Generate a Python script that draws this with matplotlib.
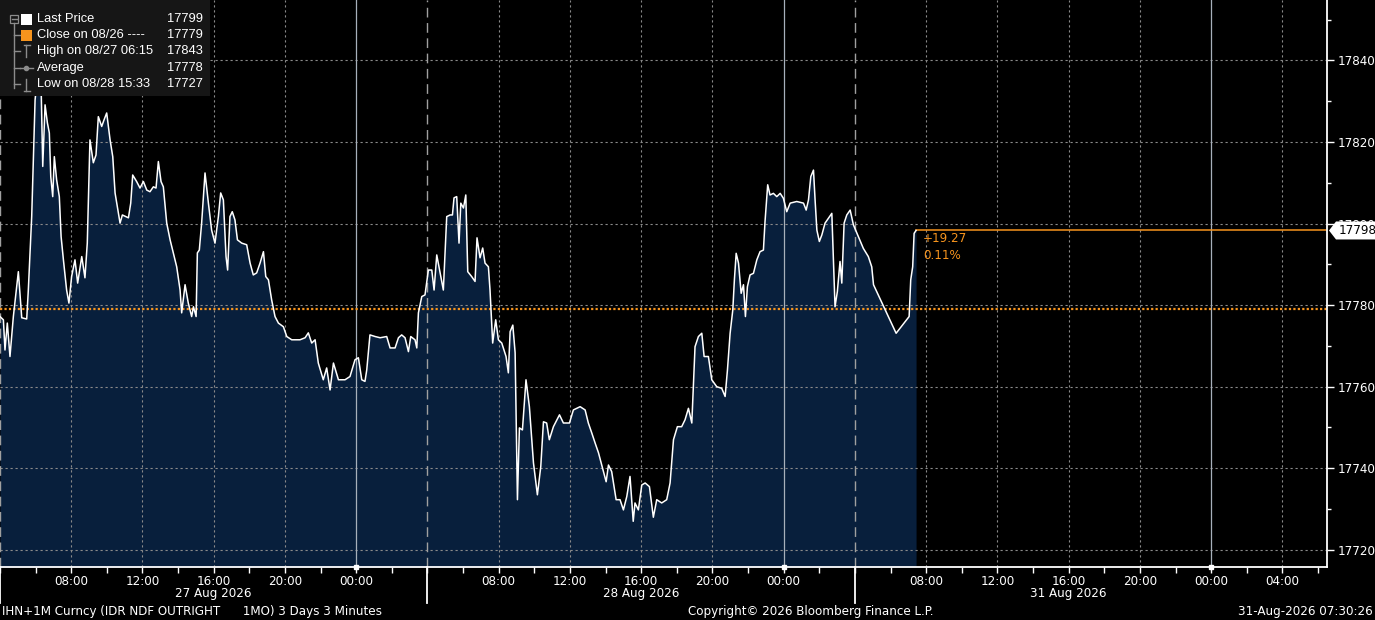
import numpy as np
import matplotlib
matplotlib.use("Agg")
import matplotlib.pyplot as plt
from matplotlib import font_manager
from matplotlib.patches import Rectangle, Polygon
from matplotlib.lines import Line2D
import matplotlib.transforms as mtransforms

# ---------------- data ----------------
# trading hours elapsed since 27 Aug 2026 04:00 (each session = 24h, weekend skipped)
hours = [
    0.00, 0.19, 0.28, 0.41, 0.56, 0.75, 1.03, 1.22, 1.50, 1.59,
    1.78, 1.97, 2.25, 2.32, 2.40, 2.53, 2.66, 2.77, 2.85, 2.96,
    3.05, 3.18, 3.33, 3.43, 3.56, 3.74, 3.87, 4.02, 4.21, 4.36,
    4.59, 4.77, 4.90, 5.05, 5.24, 5.39, 5.52, 5.71, 5.84, 5.99,
    6.18, 6.33, 6.46, 6.59, 6.74, 6.87, 7.21, 7.34, 7.45, 7.67,
    7.86, 8.05, 8.24, 8.42, 8.61, 8.76, 8.89, 9.04, 9.17, 9.36,
    9.55, 9.73, 9.92, 10.11, 10.20, 10.39, 10.57, 10.76, 10.86, 11.01,
    11.08, 11.19, 11.32, 11.51, 11.70, 11.88, 12.07, 12.26, 12.39, 12.54,
    12.69, 12.78, 12.91, 13.04, 13.19, 13.33, 13.57, 13.85, 14.04, 14.22,
    14.41, 14.60, 14.79, 14.92, 15.07, 15.25, 15.44, 15.63, 15.91, 16.10,
    16.38,
    16.84, 17.13, 17.31, 17.50, 17.69, 17.87, 18.15, 18.34, 18.53, 18.72,
    19.00, 19.37, 19.65, 19.93, 20.12, 20.31, 20.49, 20.59, 20.77, 21.06,
    21.34, 21.71, 21.90, 22.18, 22.37, 22.55, 22.74, 22.93, 23.06, 23.30,
    23.40, 23.49, 23.68, 23.86, 24.05, 24.24, 24.37, 24.52, 24.71, 24.89,
    25.08, 25.27, 25.40, 25.49, 25.64, 25.77, 25.87, 26.02, 26.15, 26.26,
    26.48, 26.67, 26.78, 26.95, 27.10, 27.23, 27.42, 27.51, 27.66, 27.83,
    27.98, 28.17, 28.41, 28.54, 28.64, 28.79, 28.92, 29.05, 29.16, 29.33,
    29.53, 29.72, 29.95, 30.17, 30.36, 30.51, 30.69, 30.84, 31.07, 31.41,
    31.63, 31.97, 32.19, 32.57, 32.85, 33.03, 33.22,
    33.41, 33.60, 33.78, 34.03, 34.16, 34.34, 34.59, 34.81, 35.00, 35.19,
    35.37, 35.55, 35.65, 35.84, 36.03, 36.22, 36.46, 36.68, 36.87, 37.15,
    37.43, 37.62, 37.81, 38.03, 38.27, 38.46, 38.65, 38.84, 39.02, 39.21,
    39.40, 39.53, 39.77, 39.96, 40.24, 40.52, 40.71, 40.84, 40.99, 41.14,
    41.23, 41.33, 41.46, 41.61, 41.74, 41.85, 41.96, 42.11, 42.30, 42.49,
    42.67, 42.86, 42.95, 43.10, 43.23, 43.42, 43.61, 43.80, 43.98, 44.17,
    44.36, 44.73, 45.11, 45.26, 45.39, 45.52, 45.67, 45.76, 45.86, 46.00,
    46.14, 46.32, 46.51, 46.70, 46.79, 46.88, 47.01, 47.16, 47.26, 47.39,
    47.54, 47.73, 47.91, 48.19, 48.47, 48.75, 48.94, 49.04, 50.31, 51.04,
    51.13, 51.24, 51.32, 51.43,
]

prices = [
    17777.2, 17776.4, 17769.0, 17775.6, 17767.4, 17777.2, 17788.2, 17776.9, 17776.6, 17783.7,
    17801.7, 17830.3, 17843.0, 17831.1, 17814.0, 17829.1, 17824.7, 17822.2, 17811.5, 17806.6,
    17816.4, 17810.7, 17806.6, 17796.8, 17791.1, 17783.7, 17780.5, 17787.0, 17791.1, 17785.4,
    17791.9, 17786.7, 17795.2, 17820.5, 17814.9, 17816.8, 17826.2, 17823.8, 17825.4, 17827.1,
    17820.5, 17816.4, 17807.5, 17804.1, 17800.1, 17802.1, 17801.4, 17805.0, 17811.9, 17810.3,
    17808.7, 17810.3, 17808.2, 17807.8, 17809.0, 17808.7, 17815.2, 17810.3, 17809.0, 17800.1,
    17796.0, 17792.8, 17789.4, 17783.7, 17778.1, 17785.0, 17780.5, 17777.2, 17779.6, 17777.2,
    17792.8, 17793.5, 17800.1, 17812.4, 17805.0, 17798.4, 17795.2, 17801.7, 17807.5, 17805.8,
    17791.9, 17788.6, 17801.7, 17802.9, 17800.9, 17796.0, 17795.2, 17794.8, 17790.3, 17787.4,
    17787.9, 17790.3, 17793.1, 17787.0, 17786.2, 17781.3, 17777.2, 17775.6, 17774.7, 17772.3,
    17771.5,
    17771.5, 17772.0, 17773.2, 17770.7, 17771.5, 17765.8, 17761.7, 17764.6, 17759.2, 17765.8,
    17761.7, 17761.7, 17762.5, 17766.6, 17767.1, 17761.7, 17761.3, 17764.1, 17772.7, 17772.3,
    17772.0, 17772.3, 17769.5, 17769.5, 17772.0, 17772.7, 17772.0, 17768.6, 17772.3, 17771.5,
    17769.5, 17778.1, 17782.1, 17782.5, 17788.6, 17788.6, 17783.7, 17792.3, 17787.9, 17783.7,
    17801.7, 17802.1, 17802.1, 17806.3, 17806.6, 17795.2, 17805.0, 17803.8, 17807.0, 17788.2,
    17787.0, 17785.8, 17796.5, 17791.6, 17794.0, 17790.3, 17789.4, 17783.7, 17770.7, 17776.4,
    17771.5, 17770.7, 17767.4, 17763.4, 17773.5, 17775.1, 17768.3, 17732.3, 17749.9, 17749.4,
    17761.7, 17755.1, 17741.3, 17733.5, 17740.4, 17751.4, 17751.1, 17747.0, 17750.2, 17753.1,
    17751.1, 17751.1, 17754.3, 17755.1, 17754.3, 17751.1, 17748.7,
    17746.2, 17743.8, 17740.8, 17736.7, 17740.8, 17739.2, 17732.3, 17732.3, 17729.8, 17733.1,
    17738.0, 17727.0, 17731.5, 17729.8, 17735.9, 17736.4, 17735.5, 17728.0, 17732.3, 17731.5,
    17732.3, 17736.4, 17747.0, 17750.2, 17750.2, 17751.9, 17754.7, 17751.1, 17769.8, 17772.3,
    17773.1, 17767.4, 17767.4, 17761.7, 17760.0, 17759.6, 17757.6, 17764.1, 17773.1, 17778.8,
    17786.2, 17792.7, 17790.3, 17782.9, 17785.0, 17777.2, 17784.5, 17787.4, 17787.8, 17791.1,
    17793.1, 17793.5, 17800.5, 17809.5, 17807.0, 17807.4, 17806.6, 17807.4, 17806.2, 17802.9,
    17805.0, 17805.4, 17805.0, 17803.3, 17805.8, 17811.5, 17813.1, 17805.8, 17798.4, 17795.6,
    17797.2, 17800.1, 17801.3, 17802.5, 17791.1, 17779.6, 17783.3, 17790.7, 17785.4, 17800.1,
    17802.1, 17803.3, 17799.7, 17796.8, 17793.9, 17791.9, 17789.4, 17785.0, 17773.1, 17777.2,
    17786.2, 17789.4, 17797.6, 17798.3,
]
assert len(hours) == len(prices)

close_price = 17779.03
session_starts = [0, 24, 48]
session_dates = ["27 Aug 2026", "28 Aug 2026", "31 Aug 2026"]
session_open_hour = 4
y_ticks = [17720, 17740, 17760, 17780, 17800, 17820, 17840]

legend_labels = ["Last Price", "Close on 08/26 ----", "High on 08/27 06:15", "Average", "Low on 08/28 15:33"]
legend_values = ["17799", "17779", "17843", "17778", "17727"]

footer_left = "IHN+1M Curncy (IDR NDF OUTRIGHT      1MO) 3 Days 3 Minutes"
footer_mid = "Copyright\u00a9 2026 Bloomberg Finance L.P."
footer_right = "31-Aug-2026 07:30:26"

# ---------------- style ----------------
names = {f.name for f in font_manager.fontManager.ttflist}
NARROW = "Liberation Sans Narrow" if "Liberation Sans Narrow" in names else "DejaVu Sans"
NSTRETCH = "normal" if NARROW == "Liberation Sans Narrow" else "condensed"
REG = "Liberation Sans" if "Liberation Sans" in names else "DejaVu Sans"

ORANGE = "#f7941d"
NAVY = "#081f3c"
WHITE = "#ffffff"
FS = 9.5

W, H = 1375, 620
fig = plt.figure(figsize=(W / 100, H / 100), dpi=100, facecolor="black")

def fx(px):
    return px / W

def fy(py):
    return 1 - py / H

ax_left, ax_right, ax_top, ax_bottom = 0, 1327, 0, 567
ax = fig.add_axes([fx(ax_left), fy(ax_bottom), fx(ax_right - ax_left), (ax_bottom - ax_top) / H])
ax.set_facecolor("black")

x_max = 74.5
y_lo, y_hi = 17715.8, 17854.8
ax.set_xlim(0, x_max)
ax.set_ylim(y_lo, y_hi)

hrs = np.array(hours)
px_ = np.array(prices)

# area + line
ax.fill_between(hrs, px_, y_lo, color=NAVY, lw=0, zorder=1)
ax.plot(hrs, px_, color=WHITE, lw=1.1, zorder=4)

# grid
for yv in y_ticks:
    ax.axhline(yv, color="#8a8a8a", lw=0.8, ls=(0, (2, 2.5)), zorder=2)
for h in range(0, int(x_max) + 1, 4):
    tod = (session_open_hour + h) % 24
    if h in session_starts:
        ax.axvline(h, color="#a0a0a0", lw=1.0, ls=(0, (7, 4)), zorder=2)
    elif tod == 0:
        ax.axvline(h, color="#a7b0bb", lw=0.9, zorder=2)
    else:
        ax.axvline(h, color="#8a8a8a", lw=0.8, ls=(0, (2, 2.5)), zorder=2)

# close line
ax.axhline(close_price, color=ORANGE, lw=1.6, ls=(0, (1.0, 1.0)), zorder=3)

# last price line to axis
last_h, last_p = hours[-1], prices[-1]
ax.plot([last_h, x_max], [last_p, last_p], color=ORANGE, lw=1.1, zorder=3)
chg = last_p - close_price
ax.annotate(f"{chg:+.2f}", xy=(last_h, last_p), xytext=(5, -6), textcoords="offset points",
            color=ORANGE, fontsize=FS, family=NARROW, fontstretch=NSTRETCH, va="center", ha="left")
ax.annotate(f"{chg / close_price * 100:.2f}%", xy=(last_h, last_p), xytext=(5, -18), textcoords="offset points",
            color=ORANGE, fontsize=FS, family=NARROW, fontstretch=NSTRETCH, va="center", ha="left")

# spines
for s in ["left", "top"]:
    ax.spines[s].set_visible(False)
for s in ["right", "bottom"]:
    ax.spines[s].set_color(WHITE)
    ax.spines[s].set_linewidth(1.3)
    ax.spines[s].set_zorder(5)

# y axis
ax.yaxis.tick_right()
ax.set_yticks(y_ticks)
ax.set_yticks(list(range(17720, 17851, 10)), minor=True)
ax.tick_params(axis="y", which="major", length=5, width=1, color=WHITE, labelcolor=WHITE,
               labelsize=FS, pad=3)
ax.tick_params(axis="y", which="minor", length=3, width=1, color=WHITE)
for lab in ax.get_yticklabels():
    lab.set_family(NARROW)
    lab.set_fontstretch(NSTRETCH)

# last price marker box on right axis (pixel geometry from the axes transform)
_, ly = ax.transData.transform((0, last_p))
ax_x1 = fig.bbox.width * (fx(ax_right))
box = Polygon([(ax_x1 + 2, ly), (ax_x1 + 9, ly + 9), (W, ly + 9), (W, ly - 9), (ax_x1 + 9, ly - 9)],
              closed=True, transform=None, fc=WHITE, ec="none", zorder=30)
fig.patches.append(box)
fig.text((ax_x1 + 12) / W, ly / H, f"{last_p:.0f}", ha="left", va="center", color="black",
         fontsize=FS, family=NARROW, fontstretch=NSTRETCH, zorder=31)

# x axis
xt = list(range(0, int(x_max) + 1, 4))
ax.set_xticks(xt)
ax.set_xticklabels(["" if h in session_starts else f"{(session_open_hour + h) % 24:02d}:00" for h in xt])
ax.set_xticks(list(range(0, int(x_max) + 1, 2)), minor=True)
ax.tick_params(axis="x", which="both", length=4, width=1, color=WHITE, labelcolor=WHITE,
               labelsize=FS, pad=1.5)
for lab in ax.get_xticklabels():
    lab.set_family(NARROW)
    lab.set_fontstretch(NSTRETCH)

blend = mtransforms.blended_transform_factory(ax.transData, fig.transFigure)
for h, d in zip(session_starts, session_dates):
    ax.plot([h, h], [fy(567), fy(603)], color=WHITE, lw=1.3, transform=blend, clip_on=False, zorder=6)
    ax.text(h + 12, fy(594), d, transform=blend, ha="center", va="center", color=WHITE,
            fontsize=FS, family=NARROW, fontstretch=NSTRETCH)
for h in xt:
    if (session_open_hour + h) % 24 == 0:
        ax.plot([h], [y_lo], marker="s", ms=3.5, color=WHITE, clip_on=False, zorder=7)

# footer
fig.text(fx(2), fy(611), footer_left, color=WHITE, fontsize=FS, family=NARROW,
         fontstretch=NSTRETCH, ha="left", va="center")
fig.text(fx(688), fy(611), footer_mid, color=WHITE, fontsize=FS, family=NARROW,
         fontstretch=NSTRETCH, ha="left", va="center")
fig.text(fx(1373), fy(611), footer_right, color=WHITE, fontsize=FS, family=NARROW,
         fontstretch=NSTRETCH, ha="right", va="center")

# legend panel
fig.patches.append(Rectangle((fx(0), fy(96)), fx(210), 96 / H, transform=fig.transFigure,
                             fc="#161616", ec="none", zorder=20))
rows_y = [19, 35, 51, 68, 84]
for i, (lab, val) in enumerate(zip(legend_labels, legend_values)):
    fig.text(fx(37), fy(rows_y[i]), lab, color=WHITE, fontsize=9.3, family=REG,
             ha="left", va="center", zorder=21)
    fig.text(fx(203), fy(rows_y[i]), val, color=WHITE, fontsize=9.3, family=REG,
             ha="right", va="center", zorder=21)

GRAY = "#8c8c8c"
def fline(xs, ys, color=GRAY, lw=1.0):
    fig.lines.append(Line2D([fx(x) for x in xs], [fy(y) for y in ys], transform=fig.transFigure,
                            color=color, lw=lw, zorder=22))

# tree structure
fline([14, 14], [23, 88])
for yy in rows_y[1:]:
    fline([14, 20], [yy, yy])
fig.patches.append(Rectangle((fx(10), fy(23)), fx(8), 8 / H, transform=fig.transFigure,
                             fc="none", ec=GRAY, lw=0.9, zorder=22))
fline([11.5, 16.5], [19, 19])
fig.patches.append(Rectangle((fx(21), fy(25)), fx(11), 11 / H, transform=fig.transFigure,
                             fc=WHITE, ec="none", zorder=22))
fig.patches.append(Rectangle((fx(21), fy(41)), fx(11), 11 / H, transform=fig.transFigure,
                             fc=ORANGE, ec="none", zorder=22))
fline([26.5, 26.5], [45, 57])
fline([23.5, 29.5], [45, 45])
fline([20, 33], [68, 68])
fig.lines.append(Line2D([fx(26.5)], [fy(68)], transform=fig.transFigure, marker="o", ms=3,
                        color=GRAY, zorder=22))
fline([26.5, 26.5], [79, 91])
fline([23.5, 29.5], [91, 91])

fig.savefig("out.png", dpi=100, facecolor="black")
